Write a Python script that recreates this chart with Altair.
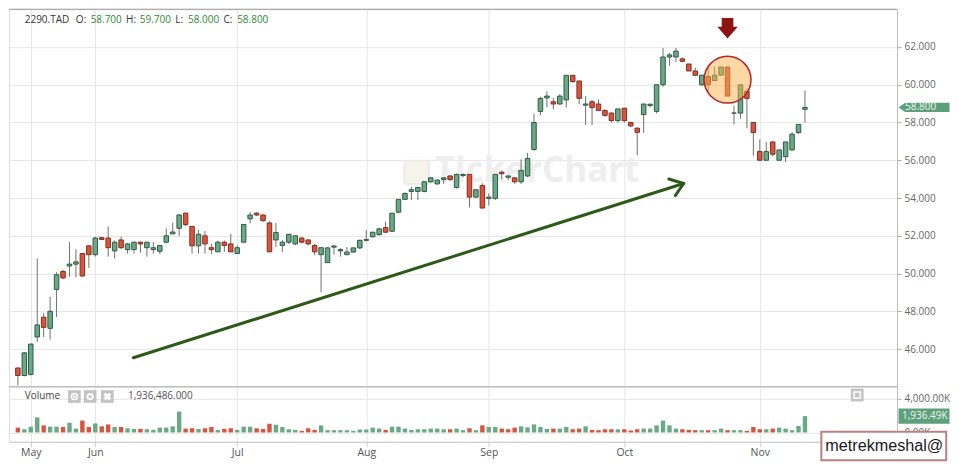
import altair as alt
import pandas as pd

# ------------------------------------------------------------------ data
opens = [45.0, 44.6, 44.66, 46.64, 47.69, 47.1, 49.16, 50.11, 50.4, 50.5,
         51.06, 51.47, 51.0, 51.9, 51.88, 51.2, 51.78, 51.27, 51.27, 51.66,
         51.37, 51.27, 51.18, 51.66, 52.1, 52.4, 53.2, 52.5, 51.47, 52.0,
         51.37, 51.15, 51.66, 51.57, 51.06, 51.66, 52.9, 53.2, 53.1, 52.68,
         51.78, 51.49, 51.66, 51.57, 51.88, 51.78, 51.49, 51.0, 50.58, 51.4,
         51.2, 51.0, 51.14, 51.36, 51.76, 51.95, 52.07, 52.44, 52.24, 53.25,
         53.93, 54.35, 54.35, 54.35, 54.86, 54.75, 54.98, 55.17, 54.56, 55.19,
         55.25, 54.05, 54.66, 53.98, 53.98, 55.37, 55.1, 55.07, 54.86, 55.17,
         56.57, 58.59, 59.3, 59.1, 58.98, 59.2, 60.5, 60.2, 58.92, 59.1,
         58.98, 58.64, 58.5, 58.1, 58.76, 58.0, 57.7, 58.42, 58.9, 58.59,
         60.0, 61.47, 61.47, 61.37, 61.1, 60.73, 60.0, 60.43, 60.22, 60.51,
         60.94, 58.5, 58.5, 59.66, 58.0, 56.46, 56.0, 56.97, 56.0, 56.19,
         56.55, 57.47, 58.7]
highs = [45.0, 45.85, 46.3, 50.8, 47.9, 48.77, 50.07, 50.2, 51.66, 51.3,
         51.1, 51.5, 51.95, 51.95, 52.5, 51.75, 51.95, 51.6, 51.7, 51.7,
         51.66, 51.66, 51.5, 52.4, 52.7, 53.17, 53.22, 52.5, 52.3, 52.26,
         51.57, 51.75, 51.75, 52.1, 51.5, 52.6, 53.27, 53.25, 53.15, 52.77,
         52.68, 51.78, 52.08, 52.0, 51.95, 51.8, 51.57, 51.4, 51.4, 51.5,
         51.35, 51.4, 51.36, 51.8, 52.3, 52.2, 52.4, 52.75, 53.2, 53.95,
         54.3, 54.6, 54.6, 54.9, 55.1, 55.0, 55.1, 55.2, 55.3, 55.3,
         55.28, 54.44, 54.78, 54.25, 55.25, 55.46, 55.17, 55.1, 56.05, 56.39,
         58.47, 59.35, 59.66, 59.3, 59.5, 60.5, 60.5, 60.2, 59.4, 59.2,
         59.22, 58.7, 58.55, 58.72, 58.76, 58.05, 57.75, 58.98, 59.0, 60.0,
         61.95, 61.68, 61.95, 61.45, 61.1, 60.9, 60.51, 60.95, 60.97, 60.94,
         60.94, 58.9, 60.0, 59.8, 58.0, 57.1, 56.97, 57.0, 56.55, 56.97,
         57.5, 57.9, 59.7]
lows = [44.08, 44.55, 44.6, 46.38, 46.64, 46.5, 47.69, 49.7, 49.84, 49.8,
        49.85, 50.3, 50.9, 51.78, 50.9, 50.8, 51.3, 51.06, 51.06, 51.1,
        50.9, 51.06, 51.03, 51.6, 52.1, 52.0, 52.5, 51.06, 51.06, 51.06,
        51.03, 51.15, 51.15, 51.15, 51.03, 51.66, 52.66, 53.05, 52.75, 51.15,
        51.4, 51.15, 51.57, 51.5, 51.6, 51.5, 50.98, 49.0, 50.58, 51.0,
        50.9, 50.97, 51.1, 51.3, 51.7, 51.9, 52.0, 52.15, 52.2, 53.2,
        53.9, 53.9, 53.9, 54.3, 54.8, 54.7, 54.75, 54.9, 54.5, 55.1,
        53.5, 54.0, 53.47, 53.6, 53.9, 55.0, 54.95, 54.75, 54.75, 55.1,
        56.5, 58.4, 58.8, 58.7, 58.95, 58.8, 60.1, 58.97, 57.87, 57.87,
        58.6, 58.3, 58.0, 58.0, 58.0, 57.75, 56.26, 57.45, 58.8, 58.48,
        59.9, 61.0, 61.2, 61.2, 60.73, 60.45, 59.95, 59.6, 60.2, 60.5,
        59.4, 57.9, 58.2, 57.7, 56.24, 56.0, 56.0, 56.2, 56.0, 55.9,
        56.5, 57.4, 58.0]
closes = [44.6, 45.8, 46.26, 47.28, 47.15, 48.0, 49.94, 49.77, 50.5, 50.62,
          49.87, 51.0, 51.88, 51.8, 51.37, 51.66, 51.37, 51.57, 51.66, 51.57,
          51.66, 51.37, 51.49, 52.0, 52.2, 53.1, 52.6, 51.47, 52.08, 51.57,
          51.27, 51.66, 51.49, 51.15, 51.37, 52.6, 53.1, 53.1, 52.8, 51.15,
          52.17, 51.66, 52.08, 52.0, 51.66, 51.57, 51.15, 51.37, 51.36, 51.46,
          51.27, 51.14, 51.36, 51.76, 51.8, 52.19, 52.37, 52.19, 53.2, 53.93,
          54.24, 54.44, 54.56, 54.86, 55.07, 54.95, 55.07, 54.98, 55.25, 55.25,
          54.05, 54.44, 53.47, 54.05, 55.25, 55.29, 55.17, 54.86, 55.46, 56.1,
          58.0, 59.27, 59.4, 58.98, 59.4, 60.5, 60.17, 59.28, 58.98, 58.79,
          58.64, 58.38, 58.1, 58.72, 58.1, 57.82, 57.48, 58.98, 58.97, 60.0,
          61.47, 61.58, 61.78, 61.24, 60.73, 60.5, 60.51, 60.0, 60.51, 60.94,
          59.4, 58.5, 60.0, 59.28, 57.47, 56.0, 56.46, 56.32, 56.55, 56.97,
          57.38, 57.9, 58.8]
volumes_k = [571, 381, 686, 1790, 838, 686, 686, 648, 1143, 457,
             1410, 648, 1067, 724, 952, 648, 648, 495, 419, 419,
             381, 305, 571, 571, 724, 2476, 457, 495, 419, 495,
             648, 305, 419, 495, 305, 686, 686, 495, 419, 1029,
             914, 648, 381, 305, 190, 495, 305, 838, 267, 267,
             267, 267, 190, 343, 343, 571, 457, 305, 686, 686,
             457, 305, 381, 381, 457, 457, 381, 381, 457, 267,
             495, 267, 838, 648, 648, 457, 381, 571, 724, 610,
             952, 648, 419, 457, 457, 648, 381, 457, 724, 305,
             267, 381, 381, 381, 381, 229, 381, 457, 457, 838,
             1410, 838, 457, 381, 305, 267, 267, 267, 267, 457,
             267, 267, 267, 190, 648, 381, 381, 457, 571, 457,
             267, 762, 1936.486]
volume_dirs = ("rgggrggrgg" "rrgrrgrggr" "ggggggrrgr" "rgrrgggrrr" "ggggrrrggg"
               "gggggggrgg" "gggggggrgg" "rgrggrrrgg" "gggrggrrgr" "rrrgrrrggg"
               "gggrrrgrgg" "rggrrrgrgg" "ggg")

month_names = ["May", "Jun", "Jul", "Aug", "Sep", "Oct", "Nov"]
month_starts = [2, 12, 34, 54, 73, 94, 115]
price_ticks = [46, 48, 50, 52, 54, 56, 58, 60, 62]
volume_ticks = [0, 2000000, 4000000]

symbol = "2290.TAD"
ohlc_labels = ["O:", "H:", "L:", "C:"]
ohlc_values = ["58.700", "59.700", "58.000", "58.800"]
volume_title = "Volume"
volume_total = "1,936,486.000"
volume_tag = "1,936.49K"
price_tag = "58.800"
signature = "metrekmeshal@"
watermark = "TickerChart"

# annotation anchors in data units (candle index, price)
trend_segments = [(17.9, 45.54, 103.2, 54.77),
                  (100.9, 55.01, 103.2, 54.77),
                  (101.9, 54.13, 103.2, 54.77)]
highlight_center = (110.0, 60.27)
arrow_anchor = (110.0, 62.99)

# ------------------------------------------------------------------ layout / style
W, H1, H2 = 889, 378, 55
SX = W / 903.0          # reference px -> chart px (horizontal)
SY = H1 / 391.0         # reference px -> chart px (vertical)
FONT = "Open Sans"
GREEN, GREEN_EDGE = "#69a987", "#2f5a43"
RED, RED_EDGE = "#d8543f", "#82301f"
GRID = "#e5e5e5"

n = len(closes)
df = pd.DataFrame({
    "i": list(range(n)),
    "open": opens, "high": highs, "low": lows, "close": closes,
    "vol": [v * 1000 for v in volumes_k],
    "vdir": ["up" if c == "g" else "down" for c in volume_dirs],
})
df["dir"] = ["up" if c >= o else "down" for o, c in zip(opens, closes)]

xscale = alt.Scale(domain=[-0.6, 135.5], nice=False, zero=False)
yscale = alt.Scale(domain=[44, 64], nice=False, zero=False)
vscale = alt.Scale(domain=[-1107000, 5407000], nice=False, zero=False)

month_expr = " : ".join(
    [f"datum.value == {m} ? '{name}'" for m, name in zip(month_starts, month_names)]
) + " : ''"

px_axis = alt.Axis(values=month_starts, grid=True, gridColor=GRID, labels=False,
                   ticks=False, domain=False)
vx_axis = alt.Axis(values=month_starts, grid=True, gridColor=GRID, labelExpr=month_expr,
                   labelColor="#555555", labelFont=FONT, labelFontSize=10.5,
                   tickSize=5, tickColor="#d0d0d0", domainColor="#cccccc", labelPadding=1)
py_axis = alt.Axis(orient="right", values=price_ticks, labelExpr="format(datum.value, '.3f')",
                   grid=True, gridColor=GRID, tickSize=4, tickColor="#aaaaaa",
                   domainColor="#bdbdbd", labelColor="#666666", labelFont=FONT,
                   labelFontSize=10, labelPadding=3)
vy_axis = alt.Axis(orient="right", values=volume_ticks,
                   labelExpr="datum.value == 2000000 ? '' : format(datum.value / 1000, ',.2f') + 'K'",
                   grid=True, gridColor=GRID, tickSize=4, tickColor="#aaaaaa",
                   domainColor="#bdbdbd", labelColor="#666666", labelFont=FONT,
                   labelFontSize=10, labelPadding=3)

one = pd.DataFrame({"a": [0]})


def text_layer(s, x, y, color, size=10, align="left", font=FONT, weight="normal"):
    return alt.Chart(pd.DataFrame({"t": [s]})).mark_text(
        align=align, baseline="middle", font=font, fontSize=size, color=color,
        fontWeight=weight
    ).encode(x=alt.value(x), y=alt.value(y), text="t:N")


# ------------------------------------------------------------------ price panel
wm_logo = alt.Chart(one).mark_rect(fill="#f6f3ea", stroke="#ebebeb", strokeWidth=2,
                                   cornerRadius=2).encode(
    x=alt.value(402 * SX), x2=alt.value(427 * SX),
    y=alt.value(157 * SY), y2=alt.value(181 * SY)
)
wm = text_layer(watermark, 433 * SX, 168 * SY, "#eeeeee", size=35, weight="bold")

wicks = alt.Chart(df).mark_rule(color="#6f6f6f", strokeWidth=1).encode(
    x=alt.X("i:Q", scale=xscale, axis=px_axis, title=None),
    y=alt.Y("low:Q", scale=yscale, axis=py_axis, title=None),
    y2="high:Q",
)
bodies = alt.Chart(df).mark_bar(width=4.5, strokeWidth=1).encode(
    x="i:Q",
    y="open:Q",
    y2="close:Q",
    fill=alt.Fill("dir:N", scale=alt.Scale(domain=["up", "down"], range=[GREEN, RED]), legend=None),
    stroke=alt.Stroke("dir:N", scale=alt.Scale(domain=["up", "down"], range=[GREEN_EDGE, RED_EDGE]), legend=None),
)

trend_df = pd.DataFrame(trend_segments, columns=["x", "y", "x2", "y2"])
trend = alt.Chart(trend_df).mark_rule(color="#2d5a18", strokeWidth=3, strokeCap="round").encode(
    x="x:Q", y="y:Q", x2="x2:Q", y2="y2:Q"
)

circle = alt.Chart(pd.DataFrame({"x": [highlight_center[0]], "y": [highlight_center[1]]})).mark_point(
    shape="circle", filled=True, size=2200, fill="#fbb24a", fillOpacity=0.5,
    stroke="#b3262b", strokeWidth=1.5, strokeOpacity=1, opacity=1
).encode(x="x:Q", y="y:Q")

ARROW = "M-0.57,-1L0.57,-1L0.57,-0.14L1,-0.14L0,1L-1,-0.14L-0.57,-0.14Z"
arrow = alt.Chart(pd.DataFrame({"x": [arrow_anchor[0]], "y": [arrow_anchor[1]]})).mark_point(
    shape=ARROW, filled=True, size=420, fill="#8e1414", strokeWidth=0, opacity=1
).encode(x="x:Q", y="y:Q")

top_rule = alt.Chart(one).mark_rule(color="#9a9a9a", strokeWidth=1).encode(y=alt.value(0))
sep_rule = alt.Chart(one).mark_rule(color="#9a9a9a", strokeWidth=1).encode(y=alt.value(H1))

last_close = pd.DataFrame({"v": [closes[-1]], "t": [price_tag]})
TAG = "M-1,0L-0.74,-0.18L1,-0.18L1,0.18L-0.74,0.18Z"
ptag = alt.Chart(last_close).mark_point(
    shape=TAG, filled=True, size=2601, fill="#5e9f7c", strokeWidth=0, opacity=1
).encode(x=alt.value(W + 27), y="v:Q")
ptag_text = alt.Chart(last_close).mark_text(
    align="left", baseline="middle", font=FONT, fontSize=10, color="#eef7f0"
).encode(x=alt.value(W + 8), y="v:Q", text="t:N")

header = [text_layer(symbol, 16 * SX, 10.7 * SY, "#333333")]
label_x = [68, 119, 169, 218]
value_x = [83, 133, 182, 232]
for lab, val, lx, vx in zip(ohlc_labels, ohlc_values, label_x, value_x):
    header.append(text_layer(lab, lx * SX, 10.7 * SY, "#333333"))
    header.append(text_layer(val, vx * SX, 10.7 * SY, "#2f8a34"))

price = alt.layer(
    wm_logo, wm, wicks, bodies, trend, circle, arrow, top_rule, sep_rule, ptag, ptag_text, *header
).properties(width=W, height=H1)

# ------------------------------------------------------------------ volume panel
vbars = alt.Chart(df).mark_bar(width=4.4).encode(
    x=alt.X("i:Q", scale=xscale, axis=vx_axis, title=None),
    y=alt.Y("vol:Q", scale=vscale, axis=vy_axis, title=None),
    y2=alt.datum(0),
    color=alt.Color("vdir:N", scale=alt.Scale(domain=["up", "down"], range=[GREEN, RED]), legend=None),
)

last_vol = pd.DataFrame({"v": [df["vol"].iloc[-1]], "t": [volume_tag]})
VTAG = "M-1,-0.3L1,-0.3L1,0.3L-1,0.3Z"
vtag = alt.Chart(last_vol).mark_point(
    shape=VTAG, filled=True, size=2601, fill="#5e9f7c", strokeWidth=0, opacity=1
).encode(x=alt.value(W + 27), y="v:Q")
vtag_text = alt.Chart(last_vol).mark_text(
    align="left", baseline="middle", font=FONT, fontSize=10, color="#eef7f0"
).encode(x=alt.value(W + 5), y="v:Q", text="t:N")

icon_y = (401 - 391) * SY
icons = []
for cx in [66.5, 82.5, 100.0]:
    icons.append(alt.Chart(one).mark_point(shape="square", filled=True, size=160,
                                           fill="#c2c2c2", strokeWidth=0, opacity=1)
                 .encode(x=alt.value(cx * SX), y=alt.value(icon_y)))
icons.append(alt.Chart(one).mark_point(shape="circle", filled=False, size=36, stroke="white",
                                       strokeWidth=1.5, opacity=1)
             .encode(x=alt.value(66.5 * SX), y=alt.value(icon_y)))
icons.append(alt.Chart(one).mark_point(shape="circle", filled=True, size=7, fill="white",
                                       strokeWidth=0, opacity=1)
             .encode(x=alt.value(66.5 * SX), y=alt.value(icon_y)))
icons.append(alt.Chart(one).mark_point(shape="circle", filled=True, size=52, fill="white",
                                       strokeWidth=0, opacity=1)
             .encode(x=alt.value(82.5 * SX), y=alt.value(icon_y)))
icons.append(alt.Chart(one).mark_point(shape="circle", filled=True, size=10, fill="#c2c2c2",
                                       strokeWidth=0, opacity=1)
             .encode(x=alt.value(82.5 * SX), y=alt.value(icon_y)))
icons.append(alt.Chart(one).mark_point(shape="cross", angle=45, filled=True, size=66, fill="white",
                                       strokeWidth=0, opacity=1)
             .encode(x=alt.value(100.0 * SX), y=alt.value(icon_y)))
# maximise button
icons.append(alt.Chart(one).mark_point(shape="square", filled=True, size=165, fill="#c4c4c4",
                                       strokeWidth=0, opacity=1)
             .encode(x=alt.value(862.5 * SX), y=alt.value((399.5 - 391) * SY)))
icons.append(alt.Chart(one).mark_point(shape="square", filled=False, size=38, stroke="white",
                                       strokeWidth=1.5, opacity=1)
             .encode(x=alt.value(862.5 * SX), y=alt.value((399.5 - 391) * SY)))

vol_title = text_layer(volume_title, 16 * SX, (400.7 - 391) * SY, "#444444")
vol_total = text_layer(volume_total, 121 * SX, (400.7 - 391) * SY, "#555555")

sig_box = alt.Chart(one).mark_rect(fill="white", stroke="#b98080", strokeWidth=2).encode(
    x=alt.value(826 * SX), x2=alt.value(953 * SX),
    y=alt.value((437.5 - 391) * SY), y2=alt.value((467 - 391) * SY)
)
sig_text = text_layer(signature, 890 * SX, (452.5 - 391) * SY, "#1a1a1a", size=16.2,
                      align="center", font="Liberation Sans")

volume = alt.layer(
    vbars, vtag, vtag_text, vol_title, vol_total, *icons, sig_box, sig_text
).properties(width=W, height=H2)

chart = alt.vconcat(price, volume, spacing=0, bounds="flush").properties(
    padding=0
).configure_view(stroke="transparent").configure(background="white")

chart.save("out.html", embed_options={"renderer": "svg", "actions": False})
